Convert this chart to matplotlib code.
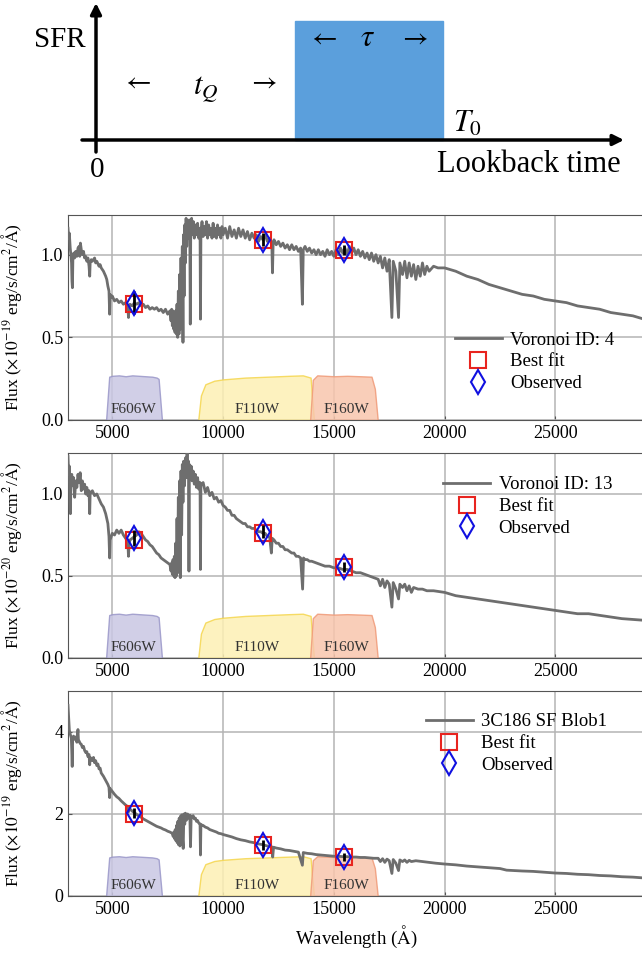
import numpy as np
import matplotlib.pyplot as plt
from matplotlib.patches import Rectangle

plt.rcParams['font.family'] = ['Liberation Serif', 'DejaVu Serif']
plt.rcParams['mathtext.fontset'] = 'stix'

# ---- spectra (wavelength in A, flux in panel units) ----
wave_4 = [3000, 3030, 3060, 3100, 3130, 3160, 3180, 3200, 3220, 3260, 3300, 3350, 3400, 3450, 3500, 3530, 3560, 3600,
          3650, 3700, 3750, 3800, 3850, 3900, 3950, 3980, 4000, 4050, 4100, 4200, 4250, 4300, 4400, 4450, 4500, 4600,
          4700, 4750, 4800, 4850, 4880, 4900, 4950, 5000, 5100, 5200, 5300, 5400, 5500, 5600, 5700, 5730, 5760, 5800,
          5900, 6000, 6100, 6200, 6300, 6400, 6500, 6600, 6700, 6800, 6900, 7000, 7100, 7200, 7300, 7400, 7500, 7600,
          7650, 7680, 7710, 7740, 7770, 7800, 7830, 7860, 7890, 7920, 7950, 7980, 8010, 8040, 8070, 8100, 8130, 8160,
          8190, 8210, 8240, 8270, 8300, 8330, 8360, 8400, 8430, 8470, 8500, 8520, 8540, 8580, 8620, 8660, 8700, 8750,
          8800, 8850, 8900, 8960, 8980, 9000, 9050, 9100, 9150, 9200, 9250, 9300, 9350, 9400, 9450, 9500, 9550, 9600,
          9650, 9700, 9750, 9800, 9850, 9900, 9950, 10000, 10100, 10200, 10300, 10400, 10500, 10600, 10700, 10800,
          10900, 11000, 11100, 11200, 11300, 11400, 11500, 11600, 11700, 11800, 11900, 12000, 12100, 12200, 12230,
          12260, 12300, 12400, 12500, 12600, 12700, 12800, 12900, 13000, 13100, 13200, 13300, 13400, 13500, 13580,
          13620, 13700, 13800, 13900, 14000, 14100, 14200, 14300, 14400, 14500, 14600, 14700, 14800, 14900, 15000,
          15100, 15200, 15300, 15400, 15500, 15600, 15700, 15800, 15900, 16000, 16100, 16200, 16300, 16400, 16500,
          16600, 16700, 16800, 16900, 17000, 17100, 17200, 17300, 17400, 17500, 17620, 17680, 17800, 17920, 17980,
          18100, 18200, 18300, 18400, 18500, 18600, 18700, 18800, 18900, 19000, 19100, 19200, 19300, 19500, 19700,
          20000, 20500, 21000, 21500, 22000, 22500, 23000, 23500, 24000, 24500, 25000, 25500, 26000, 26500, 27000,
          27500, 28000, 28500, 29000]
flux_4 = [1.16, 1.10, 1.13, 1.04, 1.00, 0.95, 0.84, 0.80, 0.97, 1.01, 0.98, 1.02, 0.99, 1.04, 1.05, 0.99, 1.07, 1.03,
          1.00, 1.02, 0.98, 0.99, 0.96, 0.98, 0.93, 0.87, 0.95, 0.97, 0.96, 0.98, 0.95, 0.96, 0.93, 0.94, 0.92, 0.90,
          0.87, 0.85, 0.81, 0.78, 0.64, 0.76, 0.74, 0.75, 0.72, 0.73, 0.71, 0.72, 0.70, 0.71, 0.69, 0.62, 0.69, 0.70,
          0.69, 0.71, 0.70, 0.71, 0.69, 0.70, 0.68, 0.69, 0.67, 0.68, 0.67, 0.68, 0.66, 0.67, 0.65, 0.67, 0.64, 0.66,
          0.60, 0.67, 0.57, 0.66, 0.55, 0.65, 0.53, 0.66, 0.52, 0.70, 0.50, 0.78, 0.52, 0.88, 0.55, 0.98, 0.60, 1.05,
          0.47, 1.12, 0.75, 1.18, 0.95, 1.22, 1.05, 1.20, 1.10, 1.21, 1.12, 0.58, 1.15, 1.22, 1.12, 1.20, 1.10, 1.18,
          1.12, 1.19, 1.10, 1.16, 0.61, 1.14, 1.20, 1.11, 1.17, 1.12, 1.20, 1.10, 1.18, 1.12, 1.16, 1.10, 1.19, 1.11,
          1.16, 1.10, 1.18, 1.12, 1.16, 1.10, 1.17, 1.12, 1.16, 1.10, 1.17, 1.11, 1.15, 1.10, 1.16, 1.11,
          1.15, 1.10, 1.14, 1.09, 1.13, 1.10, 1.12, 1.08, 1.11, 1.09, 1.12, 1.08, 1.10, 1.07, 0.89,
          1.07, 1.09, 1.06, 1.08, 1.05, 1.07, 1.04, 1.06, 1.03, 1.06, 1.03, 1.05, 1.02, 1.04, 0.70,
          1.03, 1.05, 1.02, 1.04, 1.01, 1.03, 1.00, 1.03, 1.00, 1.02, 0.99, 1.03, 1.00, 1.02, 0.99,
          1.03, 1.00, 1.04, 1.01, 1.04, 1.00, 1.05, 1.01, 1.04, 1.00, 1.03, 0.99, 1.02, 0.98, 1.01,
          0.97, 1.01, 0.96, 1.00, 0.95, 0.99, 0.92, 0.98, 0.90, 0.97, 0.62, 0.96, 0.90, 0.62, 0.95,
          0.88, 0.96, 0.86, 0.95, 0.87, 0.94, 0.85, 0.93, 0.87, 0.95, 0.88, 0.93, 0.90, 0.93, 0.92,
          0.92, 0.90, 0.87, 0.85, 0.82, 0.80, 0.78, 0.76, 0.75, 0.73, 0.72, 0.71, 0.69, 0.68, 0.67,
          0.65, 0.64, 0.63, 0.61]

wave_13 = [3000, 3030, 3060, 3090, 3110, 3130, 3170, 3200, 3250, 3300, 3350, 3400, 3450, 3500, 3550, 3600, 3650, 3700,
           3750, 3800, 3850, 3900, 3950, 3980, 4000, 4100, 4200, 4300, 4400, 4500, 4600, 4700, 4800, 4850, 4880, 4900,
           4950, 5000, 5100, 5200, 5300, 5400, 5500, 5600, 5700, 5730, 5760, 5800, 5900, 6000, 6100, 6200, 6300, 6400,
           6500, 6600, 6700, 6800, 6900, 7000, 7100, 7200, 7300, 7400, 7500, 7600, 7650, 7680, 7710, 7740, 7770, 7800,
           7830, 7860, 7890, 7920, 7950, 7980, 8010, 8040, 8070, 8100, 8130, 8160, 8190, 8220, 8260, 8300, 8340, 8376,
           8400, 8440, 8460, 8480, 8520, 8560, 8600, 8650, 8700, 8750, 8800, 8850, 8900, 8960, 8980, 9000, 9100, 9200,
           9300, 9400, 9500, 9600, 9700, 9800, 9900, 10000, 10100, 10200, 10300, 10400, 10500, 10600, 10700, 10800,
           10900, 11000, 11100, 11200, 11300, 11400, 11500, 11600, 11700, 11800, 11900, 12000, 12100, 12180, 12220,
           12300, 12400, 12500, 12600, 12700, 12800, 12900, 13000, 13100, 13200, 13300, 13400, 13500, 13590, 13630,
           13700, 13800, 13900, 14000, 14200, 14400, 14600, 14800, 15000, 15200, 15400, 15600, 15800, 16000, 16200,
           16400, 16600, 16800, 17000, 17100, 17200, 17300, 17400, 17500, 17620, 17680, 17800, 17920, 17980, 18100,
           18200, 18300, 18400, 18500, 18600, 18800, 19000, 19200, 19500, 20000, 20500, 21000, 21500, 22000, 22500,
           23000, 23500, 24000, 24500, 25000, 25500, 26000, 26500, 27000, 27500, 28000, 28500, 29000]
flux_13 = [1.23, 1.12, 1.17, 0.95, 0.88, 1.08, 1.12, 1.05, 1.10, 0.98, 1.08, 1.04, 1.12, 1.07, 1.13, 1.02, 1.08, 1.03,
           1.06, 1.00, 1.04, 0.99, 1.02, 0.88, 1.00, 1.02, 0.99, 1.00, 0.97, 0.94, 0.92, 0.88, 0.82, 0.74, 0.61, 0.72,
           0.74, 0.76, 0.75, 0.78, 0.76, 0.78, 0.75, 0.73, 0.71, 0.62, 0.70, 0.72, 0.73, 0.74, 0.75, 0.77, 0.76, 0.74,
           0.72, 0.71, 0.69, 0.68, 0.66, 0.64, 0.63, 0.61, 0.60, 0.59, 0.58, 0.57, 0.53, 0.58, 0.51, 0.60, 0.50, 0.62,
           0.49, 0.70, 0.50, 0.85, 0.52, 0.98, 0.55, 1.08, 0.49, 1.14, 0.75, 1.18, 0.95, 1.20, 1.05, 1.22, 1.10, 1.25,
           1.12, 1.20, 0.53, 1.18, 1.10, 1.17, 1.08, 1.14, 1.06, 1.12, 1.04, 1.10, 1.03, 1.07, 0.54, 1.05, 1.07, 1.01,
           1.04, 0.99, 1.01, 0.97, 0.98, 0.95, 0.96, 0.93, 0.92, 0.90, 0.90, 0.87, 0.87, 0.85, 0.84, 0.83,
           0.82, 0.82, 0.80, 0.80, 0.79, 0.79, 0.78, 0.77, 0.77, 0.76, 0.76, 0.74, 0.74, 0.64, 0.73,
           0.72, 0.70, 0.70, 0.68, 0.68, 0.66, 0.66, 0.65, 0.64, 0.64, 0.62, 0.62, 0.61, 0.42, 0.61,
           0.60, 0.60, 0.59, 0.59, 0.58, 0.57, 0.56, 0.56, 0.55, 0.55, 0.54, 0.54, 0.53, 0.52, 0.52,
           0.51, 0.50, 0.49, 0.48, 0.44, 0.48, 0.43, 0.47, 0.45, 0.31, 0.46, 0.42, 0.36, 0.45, 0.43,
           0.45, 0.41, 0.44, 0.40, 0.43, 0.42, 0.42, 0.41, 0.41, 0.40, 0.38, 0.37, 0.36, 0.35, 0.34,
           0.33, 0.32, 0.31, 0.30, 0.29, 0.28, 0.27, 0.27, 0.26, 0.25, 0.24, 0.235, 0.23]

wave_b1 = [3000, 3030, 3060, 3100, 3150, 3170, 3190, 3210, 3250, 3300, 3350, 3400, 3430, 3450, 3470, 3500, 3550, 3600,
           3650, 3700, 3750, 3800, 3850, 3900, 3950, 3980, 4000, 4050, 4100, 4150, 4200, 4250, 4300, 4350, 4400, 4450,
           4500, 4600, 4700, 4800, 4850, 4880, 4900, 5000, 5100, 5200, 5300, 5400, 5500, 5600, 5700, 5730, 5760, 5800,
           5900, 6000, 6100, 6200, 6300, 6400, 6500, 6600, 6700, 6800, 6900, 7000, 7100, 7200, 7300, 7400, 7500, 7600,
           7700, 7750, 7780, 7810, 7840, 7870, 7900, 7930, 7960, 7990, 8020, 8050, 8080, 8110, 8140, 8170, 8200, 8230,
           8270, 8300, 8350, 8400, 8450, 8500, 8530, 8560, 8600, 8650, 8700, 8750, 8800, 8850, 8900, 8960, 8980, 9000,
           9100, 9200, 9300, 9400, 9500, 9600, 9700, 9800, 9900, 10000, 10200, 10400, 10600, 10800, 11000, 11200,
           11400, 11600, 11800, 12000, 12200, 12240, 12280, 12400, 12600, 12800, 13000, 13200, 13400, 13580, 13620,
           13800, 14000, 14200, 14400, 14600, 14800, 15000, 15200, 15400, 15600, 15800, 16000, 16200, 16400, 16600,
           16800, 17000, 17100, 17200, 17300, 17400, 17500, 17620, 17680, 17800, 17920, 17980, 18100, 18200, 18300,
           18400, 18500, 18700, 19000, 19300, 19600, 20000, 20500, 21000, 21500, 22000, 22500, 22800, 23500, 24000,
           24500, 25000, 25500, 26000, 26500, 27000, 27500, 28000, 28500, 29000]
flux_b1 = [4.65, 4.35, 4.05, 3.95, 3.85, 3.55, 3.16, 3.80, 3.90, 3.82, 3.88, 3.75, 3.95, 4.06, 3.80, 3.78, 3.72, 3.70,
           3.62, 3.65, 3.55, 3.50, 3.52, 3.40, 3.45, 3.20, 3.38, 3.35, 3.30, 3.38, 3.25, 3.30, 3.18, 3.22, 3.10, 3.12,
           3.00, 2.92, 2.82, 2.72, 2.65, 2.40, 2.62, 2.55, 2.48, 2.42, 2.38, 2.32, 2.27, 2.22, 2.18, 2.05, 2.15, 2.12,
           2.07, 2.03, 1.99, 1.95, 1.92, 1.88, 1.85, 1.82, 1.79, 1.76, 1.73, 1.70, 1.68, 1.66, 1.63, 1.61, 1.58, 1.56,
           1.53, 1.45, 1.56, 1.40, 1.62, 1.35, 1.72, 1.30, 1.82, 1.25, 1.90, 1.22, 1.95, 1.28, 1.98, 1.40, 1.16, 2.00,
           1.75, 2.02, 1.85, 2.00, 1.90, 1.97, 1.20, 1.95, 1.92, 1.96, 1.88, 1.90, 1.82, 1.84, 1.78, 1.76, 1.00, 1.74,
           1.72, 1.68, 1.66, 1.62, 1.60, 1.58, 1.56, 1.53, 1.52, 1.50, 1.47, 1.44, 1.40, 1.37, 1.35, 1.32,
           1.30, 1.27, 1.25, 1.22, 1.20, 0.95, 1.19, 1.17, 1.15, 1.12, 1.11, 1.09, 1.07, 0.75, 1.06,
           1.04, 1.03, 1.01, 1.00, 0.99, 0.98, 0.97, 0.97, 0.96, 0.96, 0.95, 0.95, 0.94, 0.94, 0.93,
           0.92, 0.92, 0.84, 0.91, 0.82, 0.90, 0.86, 0.55, 0.89, 0.80, 0.62, 0.88, 0.84, 0.88, 0.82,
           0.87, 0.84, 0.86, 0.84, 0.82, 0.80, 0.78, 0.76, 0.73, 0.71, 0.69, 0.67, 0.63, 0.61, 0.60,
           0.58, 0.56, 0.55, 0.53, 0.52, 0.50, 0.49, 0.47, 0.46, 0.44]

# photometry: pivot wavelengths, best-fit, observed and error
phot_wave = [6000, 11800, 15450]
best_4 = [0.70, 1.09, 1.03]
obs_4 = [0.71, 1.09, 1.03]
err_4 = [0.07, 0.04, 0.03]
best_13 = [0.72, 0.76, 0.555]
obs_13 = [0.73, 0.77, 0.555]
err_13 = [0.05, 0.04, 0.03]
best_b1 = [2.0, 1.25, 0.95]
obs_b1 = [2.02, 1.25, 0.95]
err_b1 = [0.12, 0.12, 0.09]

# filter throughputs (normalised)
f606_wave = [4720, 4860, 5000, 5300, 5600, 5900, 6200, 6500, 6800, 7000, 7090, 7240]
f606_thr = [0, 0.97, 0.99, 1.0, 0.98, 1.0, 0.99, 0.98, 0.97, 0.95, 0.92, 0]
f110_wave = [8880, 9000, 9200, 9600, 10000, 11000, 12000, 13000, 13600, 13950, 14100]
f110_thr = [0, 0.55, 0.80, 0.88, 0.91, 0.95, 0.97, 0.99, 1.0, 0.95, 0]
f160_wave = [13930, 14050, 14250, 15000, 15600, 16200, 16700, 16850, 16980]
f160_thr = [0, 0.90, 1.0, 0.98, 0.99, 0.98, 0.97, 0.70, 0]

panels = [
    dict(wave=wave_4, flux=flux_4, best=best_4, obs=obs_4, err=err_4, label='Voronoi ID: 4',
         exp='-19', ylim=1.24, yticks=[0.0, 0.5, 1.0], ytl=['0.0', '0.5', '1.0'], fscale=0.27,
         leg=(0.665, 0.45)),
    dict(wave=wave_13, flux=flux_13, best=best_13, obs=obs_13, err=err_13, label='Voronoi ID: 13',
         exp='-20', ylim=1.25, yticks=[0.0, 0.5, 1.0], ytl=['0.0', '0.5', '1.0'], fscale=0.27,
         leg=(0.645, 0.905)),
    dict(wave=wave_b1, flux=flux_b1, best=best_b1, obs=obs_b1, err=err_b1, label='3C186 SF Blob1',
         exp='-19', ylim=5.0, yticks=[0, 2, 4], ytl=['0', '2', '4'], fscale=0.97,
         leg=(0.615, 0.91)),
]

W, H = 642, 956
fig = plt.figure(figsize=(W / 100, H / 100), dpi=100)

# ---- top schematic ----
ax0 = fig.add_axes([0, 1 - 190 / H, 1, 190 / H])
ax0.set_xlim(0, W)
ax0.set_ylim(190, 0)
ax0.axis('off')
ax0.add_patch(Rectangle((295, 21), 148, 119, color='#5b9fdc', zorder=1))
ax0.annotate('', xy=(624, 140), xytext=(82, 140),
             arrowprops=dict(arrowstyle='-|>', lw=2.5, color='black', mutation_scale=16, shrinkA=0, shrinkB=0))
ax0.annotate('', xy=(96, 3), xytext=(96, 152),
             arrowprops=dict(arrowstyle='-|>', lw=2.5, color='black', mutation_scale=16, shrinkA=0, shrinkB=0))
ax0.text(86, 40, 'SFR', fontsize=21, ha='right', va='center')
ax0.text(97, 170, '0', fontsize=21, ha='center', va='center')
ax0.text(621, 165, 'Lookback time', fontsize=22, ha='right', va='center')
ax0.text(136, 82, r'$\leftarrow$', fontsize=20, ha='center', va='center')
ax0.text(206, 89, r'$t_Q$', fontsize=22, ha='center', va='center')
ax0.text(262, 82, r'$\rightarrow$', fontsize=20, ha='center', va='center')
ax0.text(322, 38, r'$\leftarrow$', fontsize=20, ha='center', va='center')
ax0.text(368, 39, r'$\tau$', fontsize=22, ha='center', va='center')
ax0.text(413, 38, r'$\rightarrow$', fontsize=20, ha='center', va='center')
ax0.text(468, 124, r'$T_0$', fontsize=22, ha='center', va='center')

# ---- SED panels ----
tops = [215, 453, 691]
ph = 205
for p, top in zip(panels, tops):
    ax = fig.add_axes([68 / W, 1 - (top + ph) / H, (W - 68 + 2) / W, ph / H])
    ax.set_xlim(3000, 29000)
    ax.set_ylim(0, p['ylim'])
    ax.grid(True, color='#b4b4b4', lw=1.1, zorder=0)
    ax.set_axisbelow(True)

    s = p['fscale']
    ax.fill_between(f606_wave, 0, np.array(f606_thr) * s, facecolor='#c9c7e3', edgecolor='#9a97c9',
                    alpha=0.85, lw=1, zorder=1)
    ax.fill_between(f110_wave, 0, np.array(f110_thr) * s, facecolor='#fdf0b4', edgecolor='#f5d64e',
                    alpha=0.85, lw=1, zorder=1)
    ax.fill_between(f160_wave, 0, np.array(f160_thr) * s, facecolor='#f8c6ad', edgecolor='#f09a78',
                    alpha=0.85, lw=1, zorder=1)
    ty = 0.02 * p['ylim']
    ax.text(5950, ty, 'F606W', fontsize=11, ha='center', va='bottom', color='#333333', zorder=2)
    ax.text(11550, ty, 'F110W', fontsize=11, ha='center', va='bottom', color='#333333', zorder=2)
    ax.text(15550, ty, 'F160W', fontsize=11, ha='center', va='bottom', color='#333333', zorder=2)

    ax.plot(p['wave'], p['flux'], color='#6e6e6e', lw=2.0, label=p['label'], zorder=3)
    ax.plot(phot_wave, p['best'], 's', ms=11, mfc='none', mec='#e8241f', mew=1.5, label='Best fit', zorder=4)
    ax.errorbar(phot_wave, p['obs'], yerr=p['err'], fmt='none', ecolor='black', elinewidth=2, zorder=5)
    ax.plot(phot_wave, p['obs'], 'd', ms=12, mfc='none', mec='#1010e0', mew=1.5, label='Observed', zorder=6)

    ax.set_yticks(p['yticks'])
    ax.set_yticklabels(p['ytl'])
    ax.set_xticks([5000, 10000, 15000, 20000, 25000])
    ax.tick_params(labelsize=13, direction='in', length=3, color='#555555')
    for sp in ax.spines.values():
        sp.set_color('#555555')
    ax.set_ylabel(r'Flux ($\times10^{' + p['exp'] + r'}$ erg/s/cm$^2$/$\mathrm{\AA}$)', fontsize=12.5)
    ax.yaxis.set_label_coords(-0.077, 0.5)
    ax.legend(loc='upper left', bbox_to_anchor=p['leg'], frameon=False, fontsize=13.5,
              handlelength=2.5, handletextpad=0.45, labelspacing=0.25, borderaxespad=0, borderpad=0.2)

ax.set_xlabel(r'Wavelength ($\mathrm{\AA}$)', fontsize=13.5)

fig.savefig('out.png', dpi=100)
